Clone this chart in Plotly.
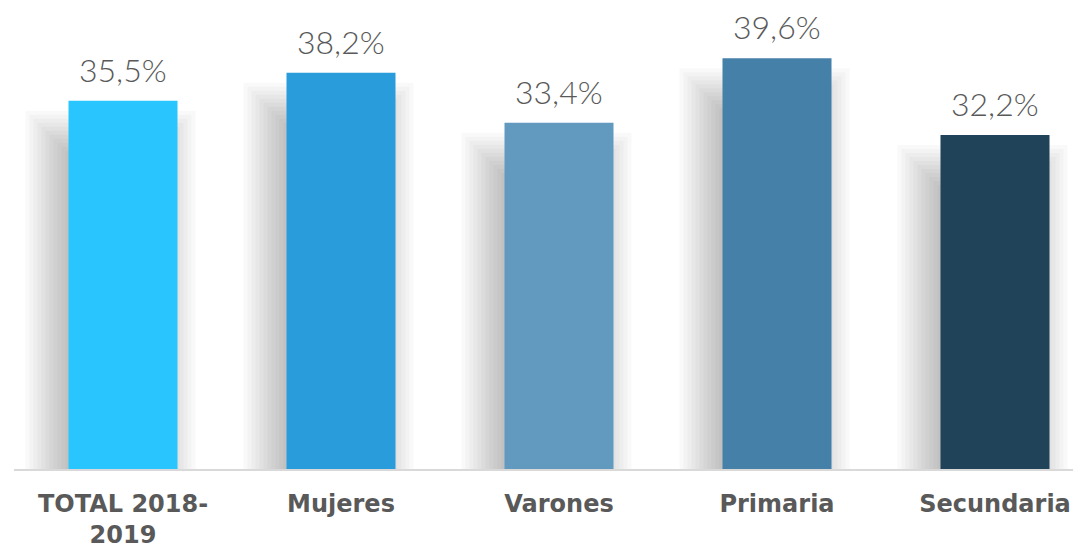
import plotly.graph_objects as go

categories = ["TOTAL 2018-<br>2019", "Mujeres", "Varones", "Primaria", "Secundaria"]
values = [35.5, 38.2, 33.4, 39.6, 32.2]
value_labels = ["35,5%", "38,2%", "33,4%", "39,6%", "32,2%"]
colors = ["#29C5FE", "#299CDC", "#6299BF", "#4580A9", "#21435A"]

# page has an 8px body margin; figure sized to fit the window
W, H = 1073, 539
ML, MR, MT, MB = 6, 0, 0, 78
plot_w = W - ML - MR
plot_h = H - MT - MB
YMAX = plot_h / 10.37
XMIN = -0.5
XMAX = XMIN + plot_w / 218.0
px_x = (XMAX - XMIN) / plot_w
px_y = YMAX / plot_h
BW = 0.5

fig = go.Figure()
xs = list(range(len(categories)))
fig.add_trace(go.Bar(x=xs, y=values, width=BW, marker=dict(color=colors, line=dict(width=0)),
                     hoverinfo="skip"))

# soft drop shadow behind each bar (stacked translucent rectangles)
shapes = []
K = 15
r = 30
for i, v in enumerate(values):
    for k in range(K):
        e = -r + 2 * r * (k + 0.5) / K
        x0 = i - BW / 2 - (15 + e) * px_x
        x1 = i + BW / 2 + (-10 + e) * px_x
        y1 = v - (38 - e) * px_y
        shapes.append(dict(type="rect", xref="x", yref="y", x0=x0, x1=x1, y0=0, y1=y1,
                           fillcolor="rgba(0,0,0,0.022)", line=dict(width=0), layer="below"))

annotations = []
for i, (v, t) in enumerate(zip(values, value_labels)):
    annotations.append(dict(x=i, y=v, xref="x", yref="y", text=t, showarrow=False,
                            yanchor="bottom", yshift=10,
                            font=dict(family="Lato", size=32, color="#595959", weight=300)))

fig.update_layout(
    width=W, height=H,
    margin=dict(l=ML, r=MR, t=MT, b=MB),
    paper_bgcolor="white", plot_bgcolor="white",
    showlegend=False,
    shapes=shapes,
    annotations=annotations,
    xaxis=dict(range=[XMIN, XMAX], tickvals=xs, ticktext=categories, showgrid=False,
               zeroline=False, showline=True, linecolor="#D9D9D9", linewidth=2,
               ticks="", ticklabelstandoff=12, automargin=False,
               tickfont=dict(family="DejaVu Sans", size=24, color="#595959", weight="bold")),
    yaxis=dict(range=[0, YMAX], visible=False, showgrid=False, zeroline=False),
)

fig.write_html("out.html")
